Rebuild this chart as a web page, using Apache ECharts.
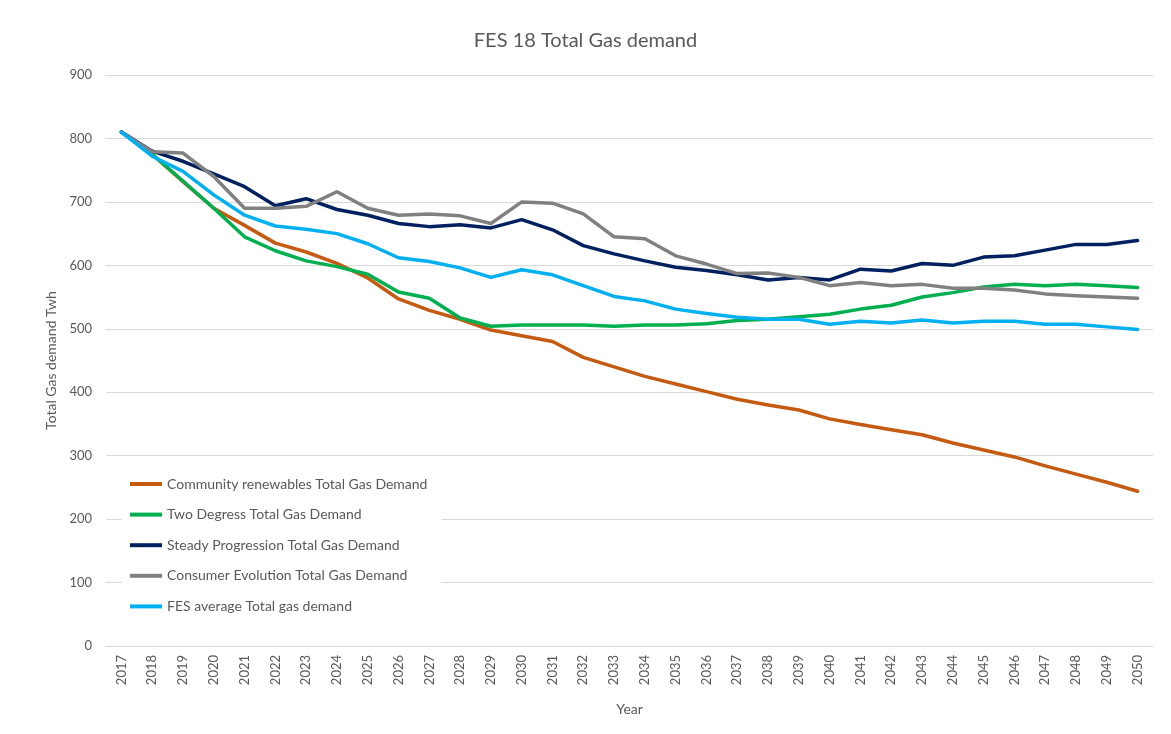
<!DOCTYPE html>
<html>
<head>
<meta charset="utf-8">
<script src="https://cdn.jsdelivr.net/npm/echarts@6/dist/echarts.min.js"></script>
<style>html,body{margin:0;padding:0;background:#fff}#c{width:1171px;height:734px}</style>
</head>
<body>
<div id="c"></div>
<script>
const years = ['2017','2018','2019','2020','2021','2022','2023','2024','2025','2026','2027','2028','2029','2030','2031','2032','2033','2034','2035','2036','2037','2038','2039','2040','2041','2042','2043','2044','2045','2046','2047','2048','2049','2050'];
const communityRenewables = [810,775,732,690,663,635,621,603,580,547,529,515,498,489,480,455,440,425,413,401,389,380,372,358,349,341,333,320,309,298,284,271,258,244];
const twoDegrees = [810,775,733,690,645,623,607,598,586,558,548,517,504,506,506,506,504,506,506,508,513,515,519,523,531,537,550,557,566,570,568,570,568,565];
const steadyProgression = [810,780,764,744,724,694,705,688,679,666,661,664,659,672,656,631,618,607,597,592,585,577,581,577,594,591,603,600,613,615,624,633,633,639];
const consumerEvolution = [810,779,777,740,690,690,693,716,690,679,681,678,666,700,698,681,645,642,615,602,587,588,581,568,573,568,570,564,564,561,555,552,550,548];
const fesAverage = [810,772,748,711,679,662,657,650,634,612,606,596,581,593,585,568,551,544,531,524,518,515,515,507,512,509,514,509,512,512,507,507,503,499];
const seriesNames = ['Community renewables Total Gas Demand','Two Degress Total Gas Demand','Steady Progression Total Gas Demand','Consumer Evolution Total Gas Demand','FES average Total gas demand'];
const seriesData = [communityRenewables, twoDegrees, steadyProgression, consumerEvolution, fesAverage];
const colors = ['#C55A11','#00B050','#002060','#808080','#00B0F0'];

const FONT = 'Lato, "Open Sans", sans-serif';
const chart = echarts.init(document.getElementById('c'));
chart.setOption({
  animation: false,
  backgroundColor: '#fff',
  color: colors,
  textStyle: { fontFamily: FONT },
  title: {
    text: 'FES 18 Total Gas demand',
    left: 'center', top: 26,
    textStyle: { fontFamily: FONT, fontSize: 20, fontWeight: 'normal', color: '#595959' }
  },
  legend: {
    orient: 'vertical',
    left: 122, top: 470,
    itemWidth: 32, itemHeight: 4, itemGap: 16.6,
    icon: 'rect',
    backgroundColor: '#fff',
    padding: [7, 14, 7, 8],
    textStyle: { fontFamily: FONT, fontSize: 14, color: '#595959' },
    data: seriesNames
  },
  grid: { left: 106, right: 18, top: 75, bottom: 88 },
  xAxis: {
    type: 'category',
    data: years,
    boundaryGap: true,
    name: 'Year', nameLocation: 'middle', nameGap: 56,
    nameTextStyle: { fontFamily: FONT, fontSize: 14, color: '#595959' },
    axisLine: { lineStyle: { color: '#d9d9d9', width: 1 } },
    axisTick: { show: false },
    axisLabel: { rotate: 90, fontSize: 13, color: '#595959', margin: 9, interval: 0, fontFamily: FONT }
  },
  yAxis: {
    type: 'value',
    min: 0, max: 900, interval: 100,
    name: 'Total Gas demand Twh', nameLocation: 'middle', nameGap: 43, nameRotate: 90,
    nameTextStyle: { fontFamily: FONT, fontSize: 14, color: '#595959' },
    axisLine: { show: false },
    axisTick: { show: false },
    axisLabel: { fontSize: 13, color: '#595959', margin: 14, fontFamily: FONT },
    splitLine: { lineStyle: { color: '#d9d9d9', width: 1 } }
  },
  series: seriesNames.map((n, i) => ({
    name: n,
    type: 'line',
    data: seriesData[i],
    symbol: 'none',
    lineStyle: { width: 3.5, color: colors[i], cap: 'round', join: 'round' },
    itemStyle: { color: colors[i] }
  }))
});
</script>
</body>
</html>
